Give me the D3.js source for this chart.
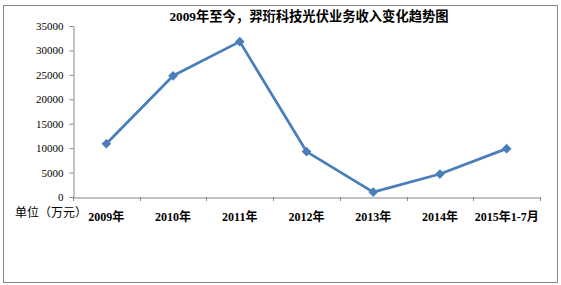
<!DOCTYPE html>
<html><head><meta charset="utf-8">
<script src="https://cdn.jsdelivr.net/npm/d3@7"></script>
<style>body{margin:0;background:#fff}svg{display:block}</style>
</head><body>
<script>
const categories = ["2009年","2010年","2011年","2012年","2013年","2014年","2015年1-7月"];
const values = [10900, 24800, 31800, 9300, 1000, 4700, 9900];
const yTicks = [0,5000,10000,15000,20000,25000,30000,35000];
const title = "2009年至今，羿珩科技光伏业务收入变化趋势图";
const unitLabel = "单位（万元）";

(function(){
const W=561,H=285;
const font = "'Liberation Serif','Times New Roman','Noto Sans CJK SC',serif";
const svg=d3.select("body").append("svg").attr("width",W).attr("height",H);
svg.append("rect").attr("x",3.5).attr("y",5.5).attr("width",554).attr("height",277)
  .attr("fill","#fff").attr("stroke","#868686").attr("stroke-width",1);

const pl=73,pr=540,pt=26,pb=197;
const x=d3.scaleBand().domain(categories).range([pl,pr]);
const y=d3.scaleLinear().domain([0,35000]).range([pb,pt]);

const yAxis=svg.append("g").attr("transform",`translate(${pl+0.5},0)`)
  .call(d3.axisLeft(y).tickValues(yTicks).tickSize(4).tickSizeOuter(0).tickPadding(6).tickFormat(d3.format("d")));
yAxis.selectAll("path,line").attr("stroke","#868686");
yAxis.selectAll("text").attr("font-family",font).attr("font-size",11).attr("fill","#000");

const xAxis=svg.append("g").attr("transform",`translate(0,${pb+0.5})`)
  .call(d3.axisBottom(x).tickSize(0).tickSizeOuter(0).tickPadding(15));
xAxis.select(".domain").attr("stroke","#868686");
xAxis.selectAll("text").attr("font-family",font).attr("font-size",12).attr("fill","#000").attr("font-weight","bold");
const bounds=categories.map(c=>x(c)).concat([x(categories[categories.length-1])+x.bandwidth()]);
svg.append("g").selectAll("line").data(bounds).join("line")
  .attr("x1",d=>Math.round(d)+0.5).attr("x2",d=>Math.round(d)+0.5)
  .attr("y1",pb).attr("y2",pb+4).attr("stroke","#868686");

const cx=d=>x(d)+x.bandwidth()/2;
const line=d3.line().x((d,i)=>cx(categories[i])).y(d=>y(d));
svg.append("path").datum(values).attr("d",line).attr("fill","none")
  .attr("stroke","#4A7EBB").attr("stroke-width",2.75).attr("stroke-linejoin","round");
svg.append("g").selectAll("path").data(values).join("path")
  .attr("d",d3.symbol(d3.symbolDiamond2,60)())
  .attr("transform",(d,i)=>`translate(${cx(categories[i])},${y(d)})`)
  .attr("fill","#4A7EBB");

svg.append("text").attr("x",309).attr("y",21).attr("text-anchor","middle")
  .attr("font-family",font).attr("font-size",13.3).attr("font-weight","bold").text(title);
svg.append("text").attr("x",15).attr("y",217)
  .attr("font-family",font).attr("font-size",12).text(unitLabel);
})();
</script>
</body></html>
